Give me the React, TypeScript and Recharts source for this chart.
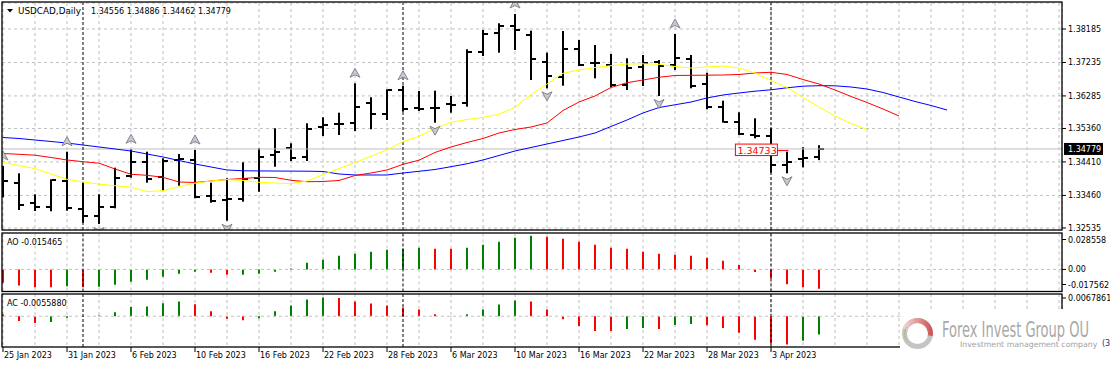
import React from 'react';
import { ComposedChart, Bar, Line, Scatter, XAxis, YAxis, CartesianGrid, ReferenceLine, Cell } from 'recharts';

const FONT = "'DejaVu Sans', Verdana, sans-serif";

// ---------- data ----------
const opens = [
  1.33954, 1.33804, 1.33236, 1.3314, 1.33869, 1.33066, 1.32884, 1.3314, 1.34011, 1.34417,
  1.33974, 1.34465, 1.34465, 1.33452, 1.3333, 1.33358, 1.33946, 1.34607, 1.34798, 1.34542,
  1.35394, 1.35488, 1.35508, 1.36092, 1.35763, 1.36453, 1.3594, 1.3595, 1.36047, 1.36092,
  1.3754, 1.38063, 1.3827, 1.38015, 1.37257, 1.36831, 1.37617, 1.37211, 1.37163, 1.36595,
  1.37115, 1.37257, 1.37163, 1.37325, 1.36615, 1.35962, 1.35553, 1.35175, 1.35147, 1.34324,
  1.34485, 1.34556,
];
const highs = [
  1.34295, 1.34088, 1.33492, 1.33918, 1.34701, 1.33821, 1.33492, 1.34247, 1.34769, 1.34701,
  1.34514, 1.34636, 1.34749, 1.33821, 1.33946, 1.344, 1.34798, 1.35366, 1.3494, 1.35508,
  1.35678, 1.35809, 1.36643, 1.36246, 1.36473, 1.36575, 1.36425, 1.36433, 1.36283, 1.37609,
  1.38157, 1.38347, 1.38611, 1.38137, 1.37512, 1.38128, 1.37873, 1.37731, 1.37475, 1.37353,
  1.37447, 1.37305, 1.38043, 1.37447, 1.36944, 1.36149, 1.3582, 1.3565, 1.35366, 1.34701,
  1.34826, 1.34886,
];
const lows = [
  1.33406, 1.33046, 1.33017, 1.3301, 1.33025, 1.32685, 1.32648, 1.33094, 1.33963, 1.33821,
  1.33594, 1.33736, 1.33378, 1.33253, 1.32742, 1.33282, 1.33565, 1.34275, 1.34437, 1.34437,
  1.35147, 1.35175, 1.35289, 1.35337, 1.35601, 1.35837, 1.35857, 1.35525, 1.35809, 1.35979,
  1.37418, 1.37512, 1.37589, 1.36737, 1.36501, 1.36575, 1.37134, 1.36785, 1.3653, 1.36453,
  1.36567, 1.36283, 1.37021, 1.36501, 1.35905, 1.35525, 1.35175, 1.35082, 1.34105, 1.34088,
  1.34258, 1.34462,
];
const closes = [
  1.33869, 1.33188, 1.33123, 1.33898, 1.33094, 1.32884, 1.3314, 1.33963, 1.34417, 1.33926,
  1.34446, 1.34494, 1.33424, 1.3331, 1.33358, 1.33926, 1.34559, 1.34693, 1.34531, 1.35337,
  1.35459, 1.3548, 1.35979, 1.35763, 1.36453, 1.35914, 1.35925, 1.35945, 1.3604, 1.3754,
  1.38035, 1.3827, 1.38157, 1.37325, 1.36851, 1.37617, 1.37163, 1.37228, 1.36595, 1.37069,
  1.37211, 1.37134, 1.3737, 1.36567, 1.35979, 1.35553, 1.35204, 1.35147, 1.34324, 1.344,
  1.34514, 1.34779,
];
// Alligator (shifted lines extend past the last bar)
const jaw = [
  1.35104, 1.35076, 1.35033, 1.34991, 1.34948, 1.34891, 1.34835, 1.34778, 1.34721, 1.34636,
  1.34551, 1.34451, 1.34352, 1.34267, 1.34182, 1.3416, 1.34155, 1.34152, 1.3415, 1.34148,
  1.34139, 1.34068, 1.3404, 1.3404, 1.3404, 1.34096, 1.34145, 1.34196, 1.34275, 1.34358,
  1.34466, 1.34593, 1.34721, 1.3482, 1.3492, 1.35019, 1.35119, 1.35232, 1.35417, 1.35601,
  1.358, 1.35956, 1.36033, 1.36112, 1.36226, 1.36311, 1.36368, 1.36419, 1.36459, 1.36516,
  1.36561, 1.36575, 1.36572, 1.36538, 1.36481, 1.36382, 1.36254, 1.36127, 1.36013, 1.35885,
];
const teeth = [
  1.3465, 1.34627, 1.34602, 1.34537, 1.34466, 1.34417, 1.34375, 1.3421, 1.3406, 1.34031,
  1.33974, 1.33841, 1.33827, 1.33869, 1.33912, 1.3394, 1.33974, 1.33969, 1.33889, 1.33849,
  1.33855, 1.33884, 1.34025, 1.34096, 1.34182, 1.34343, 1.3446, 1.34679, 1.34835, 1.34962,
  1.35076, 1.35232, 1.35332, 1.35402, 1.35516, 1.35871, 1.36112, 1.36283, 1.36524, 1.3666,
  1.36737, 1.36814, 1.36865, 1.3687, 1.36873, 1.36879, 1.36893, 1.36936, 1.36956, 1.36893,
  1.36751, 1.36623, 1.36453, 1.36269, 1.36098, 1.35914, 1.35715,
];
const lips = [
  1.344, 1.34309, 1.34219, 1.34068, 1.33918, 1.33841, 1.33778, 1.33736, 1.33693, 1.33571,
  1.33594, 1.33705, 1.33807, 1.33869, 1.33909, 1.33884, 1.33832, 1.33813, 1.3379, 1.33869,
  1.34048, 1.34224, 1.34389, 1.34571, 1.34749, 1.34985, 1.35138, 1.3536, 1.35536, 1.35615,
  1.35678, 1.35766, 1.35962, 1.36325, 1.36623, 1.36927, 1.37021, 1.37092, 1.37143, 1.37191,
  1.37197, 1.37183, 1.3712, 1.37078, 1.37106, 1.37135, 1.37078, 1.36936, 1.36723, 1.36524,
  1.3624, 1.3597, 1.35715, 1.35502, 1.35332,
];
const aoValues = [
  -0.01069, -0.01277, -0.0141, -0.0142, -0.0133, -0.01415, -0.01383, -0.01224, -0.00984, -0.00824,
  -0.00585, -0.00346, -0.00186, -0.00266, -0.00426, -0.00415, -0.00346, -0.00186, 0.0008, 0.00532,
  0.00771, 0.0109, 0.0125, 0.0141, 0.01569, 0.01649, 0.01729, 0.01649, 0.0164, 0.01729,
  0.01968, 0.02208, 0.02527, 0.02686, 0.02607, 0.02448, 0.02208, 0.01968, 0.01729, 0.01649,
  0.0141, 0.0125, 0.0117, 0.0109, 0.00931, 0.00691, 0.00346, -0.00213, -0.00718, -0.0117,
  -0.0141, -0.015465,
];
const acValues = [
  0.0005, -0.00149, -0.00209, -0.00179, -0.0005, -0.0002, 0.0002, 0.0012, 0.00279, 0.00299,
  0.00398, 0.00448, 0.00369, 0.00149, -0.0008, -0.0012, -0.0006, 0.00149, 0.00329, 0.00508,
  0.00568, 0.0056, 0.00448, 0.00389, 0.00329, 0.00269, 0.00209, 0.0006, -0.0001, 0.0006,
  0.00209, 0.00359, 0.00478, 0.00448, 0.00209, -0.0009, -0.00299, -0.00448, -0.00455, -0.00389,
  -0.00359, -0.00389, -0.00269, -0.00239, -0.00279, -0.00359, -0.00508, -0.00717, -0.00837, -0.00867,
  -0.00747, -0.005588,
];
const upFractalBars = [0, 4, 8, 12, 22, 25, 32, 42];
const downFractalBars = [6, 14, 27, 34, 41, 49];
const priceTicks = [1.38185, 1.37235, 1.36285, 1.3536, 1.3441, 1.3346, 1.32535];
const aoTicks = [0.028558, 0, -0.017562];
const acTicks = [0.0067861];
const labelSlots = [0, 4, 8, 12, 16, 20, 24, 28, 32, 36, 40, 44, 48];
const labelTexts = [
  '25 Jan 2023', '31 Jan 2023', '6 Feb 2023', '10 Feb 2023', '16 Feb 2023', '22 Feb 2023',
  '28 Feb 2023', '6 Mar 2023', '10 Mar 2023', '16 Mar 2023', '22 Mar 2023', '28 Mar 2023', '3 Apr 2023',
];
const gridSlots = [0, 2, 4, 6, 8, 10, 12, 14, 16, 18, 20, 22, 24, 26, 28, 30, 32, 34, 36, 38, 40, 42, 44, 46, 48, 50, 52, 54, 56, 58, 60, 62, 64, 66];
const separatorSlots = [5, 25, 48];
const lastPrice = 1.34779;
const markedLevel = [{ s: 48.4, y: 1.34733 }];
const headerSymbol = 'USDCAD,Daily';
const headerOHLC = '1.34556 1.34886 1.34462 1.34779';
const aoTitle = 'AO -0.015465';
const acTitle = 'AC -0.0055880';

const X_DOMAIN: [number, number] = [-0.0625, 66.1875];
const TOTAL_SLOTS = 67;

// ---------- derived tables ----------
const mainRows = Array.from({ length: TOTAL_SLOTS }, (_, s) => ({
  s,
  range: s < opens.length ? [lows[s], highs[s]] : undefined,
  open: s < opens.length ? opens[s] : undefined,
  close: s < opens.length ? closes[s] : undefined,
  jaw: jaw[s],
  teeth: teeth[s],
  lips: lips[s],
}));
const subRows = aoValues.map((v, s) => ({ s, ao: v, ac: acValues[s] }));
const upFr = upFractalBars.map((i) => ({ s: i, y: highs[i] }));
const dnFr = downFractalBars.map((i) => ({ s: i, y: lows[i] }));
const colorOf = (arr: number[], i: number) => (i > 0 && arr[i] > arr[i - 1] ? '#008000' : '#ff0000');

// ---------- shapes ----------
const OhlcShape = (p: any) => {
  const { x, y, width, height, payload } = p;
  if (!payload || payload.open == null || x == null || !isFinite(y) || !isFinite(height)) return <g />;
  const top = Math.min(y, y + height);
  const h = Math.abs(height);
  const [lo, hi] = payload.range;
  const k = h / (hi - lo);
  const cx = Math.round(x + width / 2);
  const oy = Math.round(top + (hi - payload.open) * k);
  const cy = Math.round(top + (hi - payload.close) * k);
  return (
    <g fill="#000">
      <rect x={cx - 1} y={top} width={2} height={h} />
      <rect x={cx - 5} y={oy - 1} width={4} height={2} />
      <rect x={cx + 1} y={cy - 1} width={4} height={2} />
    </g>
  );
};

const UpArrow = (p: any) => {
  const { cx, cy } = p;
  if (cx == null || cy == null) return <g />;
  const t = cy - 10;
  return (
    <path
      d={`M${cx},${t - 5} L${cx + 5},${t + 4} L${cx},${t + 1.5} L${cx - 5},${t + 4} Z`}
      fill="#c8c8d0"
      stroke="#7c7c84"
      strokeWidth={0.9}
    />
  );
};
const DownArrow = (p: any) => {
  const { cx, cy } = p;
  if (cx == null || cy == null) return <g />;
  const t = cy + 7.5;
  return (
    <path
      d={`M${cx},${t + 5} L${cx + 5},${t - 4} L${cx},${t - 1.5} L${cx - 5},${t - 4} Z`}
      fill="#c8c8d0"
      stroke="#7c7c84"
      strokeWidth={0.9}
    />
  );
};

const LevelBox = (p: any) => {
  const { cx, cy, payload } = p;
  if (cx == null || cy == null) return <g />;
  return (
    <g>
      <rect x={cx - 42} y={cy - 6.5} width={42} height={11.5} fill="#fff" stroke="#ff0000" strokeWidth={1} />
      <text x={cx - 40} y={cy + 3} fontSize={9.5} fill="#ff0000" fontFamily={FONT}>
        {payload.y.toFixed(5)}
      </text>
      <line x1={cx} y1={cy} x2={cx + 11} y2={cy} stroke="#ff0000" strokeWidth={1} />
    </g>
  );
};

const priceLabel = (props: any) => {
  const vb = props.viewBox || {};
  if (vb.x == null) return <g />;
  const x = vb.x + vb.width + 2;
  const y = vb.y;
  return (
    <g>
      <rect x={x} y={y - 6} width={39} height={12} fill="#000" />
      <text x={x + 4} y={y + 3} fontSize={8} fill="#fff" fontFamily={FONT}>
        {lastPrice.toFixed(5)}
      </text>
    </g>
  );
};

const makeSubTick = (fmt: (v: number) => string) => (p: any) => {
  const { x, y, payload } = p;
  const v = payload.value;
  const off = v > 0 ? (v > 0.01 ? 6 : 4) : v < 0 ? -7 : 0;
  const ly = y + off;
  return (
    <g>
      <line x1={x - 6} x2={x - 2} y1={ly} y2={ly} stroke="#000" />
      <text x={x} y={ly + 3} fontSize={8} fill="#000" fontFamily={FONT}>
        {fmt(v)}
      </text>
    </g>
  );
};
const subFmt = (v: number) => (v === 0 ? '0.00' : String(v));

const XTick = (p: any) => {
  const { x, y, payload } = p;
  const idx = labelSlots.indexOf(payload.value);
  if (idx < 0) return <g />;
  return (
    <g>
      <line x1={x} x2={x} y1={y} y2={y + 5} stroke="#000" />
      <text x={x + 1} y={y + 11} fontSize={8} fill="#000" fontFamily={FONT}>
        {labelTexts[idx]}
      </text>
    </g>
  );
};

const separators = (keyPrefix: string) =>
  separatorSlots.map((s) => (
    <ReferenceLine key={keyPrefix + s} x={s} stroke="#000" strokeDasharray="3 2" strokeWidth={1} />
  ));

export default function App() {
  return (
    <div style={{ position: 'absolute', left: 0, top: 0, width: 1110, height: 368, background: '#fff', overflow: 'hidden' }}>
      {/* main price panel */}
      <div style={{ position: 'absolute', left: 0, top: 0 }}>
        <ComposedChart width={1110} height={232} data={mainRows} margin={{ top: 3, right: 0, bottom: 2, left: 2 }}>
          <CartesianGrid stroke="#c0c0c0" strokeDasharray="3 3" />
          <XAxis dataKey="s" type="number" domain={X_DOMAIN} ticks={gridSlots} interval={0} hide allowDataOverflow />
          <YAxis
            orientation="right"
            width={48}
            domain={[1.32478, 1.38923]}
            ticks={priceTicks}
            interval={0}
            allowDataOverflow
            tickSize={4}
            tickMargin={2}
            tick={{ fontSize: 8, fill: '#000', fontFamily: FONT }}
            tickLine={{ stroke: '#000' }}
            axisLine={false}
            tickFormatter={(v: number) => v.toFixed(5)}
          />
          <ReferenceLine y={lastPrice} stroke="#c0c0c0" strokeWidth={1} label={priceLabel} />
          {separators('m')}
          <Scatter data={markedLevel} dataKey="y" shape={LevelBox} isAnimationActive={false} />
          <Line dataKey="jaw" stroke="#0000ff" strokeWidth={1} dot={false} activeDot={false} isAnimationActive={false} type="linear" />
          <Line dataKey="teeth" stroke="#ff0000" strokeWidth={1} dot={false} activeDot={false} isAnimationActive={false} type="linear" />
          <Line dataKey="lips" stroke="#ffff00" strokeWidth={1} dot={false} activeDot={false} isAnimationActive={false} type="linear" />
          <Bar dataKey="range" barSize={10} shape={OhlcShape} isAnimationActive={false} />
          <Scatter data={upFr} dataKey="y" shape={UpArrow} isAnimationActive={false} />
          <Scatter data={dnFr} dataKey="y" shape={DownArrow} isAnimationActive={false} />
        </ComposedChart>
      </div>

      {/* AO panel */}
      <div style={{ position: 'absolute', left: 0, top: 233 }}>
        <ComposedChart width={1110} height={59} data={subRows} margin={{ top: 0.5, right: 0, bottom: 0.5, left: 2 }}>
          <CartesianGrid stroke="#c0c0c0" strokeDasharray="3 3" horizontal={false} />
          <XAxis dataKey="s" type="number" domain={X_DOMAIN} ticks={gridSlots} interval={0} hide allowDataOverflow />
          <YAxis
            orientation="right"
            width={48}
            domain={[-0.017562, 0.028558]}
            ticks={aoTicks}
            interval={0}
            allowDataOverflow
            tickSize={4}
            tickMargin={2}
            tickLine={false}
            axisLine={false}
            tick={makeSubTick(subFmt)}
          />
          <ReferenceLine y={0} stroke="#c0c0c0" strokeDasharray="3 3" />
          {separators('a')}
          <Bar dataKey="ao" barSize={2} isAnimationActive={false}>
            {aoValues.map((_, i) => (
              <Cell key={i} fill={colorOf(aoValues, i)} />
            ))}
          </Bar>
        </ComposedChart>
      </div>

      {/* AC panel + time axis */}
      <div style={{ position: 'absolute', left: 0, top: 293 }}>
        <ComposedChart width={1110} height={75} data={subRows} margin={{ top: 1, right: 0, bottom: 0, left: 2 }}>
          <CartesianGrid stroke="#c0c0c0" strokeDasharray="3 3" horizontal={false} />
          <XAxis
            dataKey="s"
            type="number"
            domain={X_DOMAIN}
            ticks={gridSlots}
            interval={0}
            allowDataOverflow
            height={21}
            tickSize={0}
            tickMargin={0}
            tickLine={false}
            axisLine={false}
            tick={XTick}
          />
          <YAxis
            orientation="right"
            width={48}
            domain={[-0.0094, 0.0067861]}
            ticks={acTicks}
            interval={0}
            allowDataOverflow
            tickSize={4}
            tickMargin={2}
            tickLine={false}
            axisLine={false}
            tick={makeSubTick(subFmt)}
          />
          <ReferenceLine y={0} stroke="#c0c0c0" strokeDasharray="3 3" />
          {separators('c')}
          <Bar dataKey="ac" barSize={2} isAnimationActive={false}>
            {acValues.map((_, i) => (
              <Cell key={i} fill={colorOf(acValues, i)} />
            ))}
          </Bar>
        </ComposedChart>
      </div>

      {/* frames, titles, watermark */}
      <svg width={1110} height={368} style={{ position: 'absolute', left: 0, top: 0, pointerEvents: 'none' }}>
        <g fill="none" stroke="#000" strokeWidth={1.3}>
          <rect x={2} y={2} width={1060} height={228} />
          <rect x={2} y={233} width={1060} height={58.5} />
          <rect x={2} y={294} width={1060} height={53} />
        </g>
        <polygon points="7,9 13,9 10,12.5" fill="#000" />
        <text x={18} y={14} fontSize={8.5} fill="#000" fontFamily={FONT} textLength={63} lengthAdjust="spacingAndGlyphs">
          {headerSymbol}
        </text>
        <text x={91} y={14} fontSize={8} fill="#000" fontFamily={FONT}>{headerOHLC}</text>
        <text x={7} y={245} fontSize={8} fill="#000" fontFamily={FONT}>{aoTitle}</text>
        <text x={7} y={306} fontSize={8} fill="#000" fontFamily={FONT}>{acTitle}</text>

        <rect x={900} y={309} width={210} height={59} fill="#fff" />
        <defs>
          <linearGradient id="ringTop" x1="0" y1="0" x2="1" y2="0">
            <stop offset="0" stopColor="#f2d0d0" />
            <stop offset="1" stopColor="#d05a5a" />
          </linearGradient>
        </defs>
        <circle cx={917.5} cy={333.5} r={13} fill="none" stroke="#c4c4c4" strokeWidth={5} />
        <path d="M905.3 329.05 A13 13 0 0 1 930.3 335.76" fill="none" stroke="url(#ringTop)" strokeWidth={5} />
        <path d="M907 327 A11 11 0 0 0 908 342" fill="none" stroke="#a8b440" strokeWidth={1} strokeDasharray="2 1" />
        <g transform="translate(942,337) scale(1,1.45)">
          <text
            x={0}
            y={0}
            fontSize={14.3}
            fill="#a8a8a8"
            fontFamily="'DejaVu Sans Condensed', 'Liberation Sans Narrow', sans-serif"
            fontStretch="condensed"
            textLength={147}
            lengthAdjust="spacingAndGlyphs"
          >
            Forex Invest Group OU
          </text>
        </g>
        <text x={960} y={347} fontSize={7.8} fill="#a0a0a0" fontFamily={FONT}>
          Investment management company
        </text>
        <text x={1102} y={346} fontSize={8} fill="#203080" fontFamily={FONT}>(3</text>
      </svg>
    </div>
  );
}
